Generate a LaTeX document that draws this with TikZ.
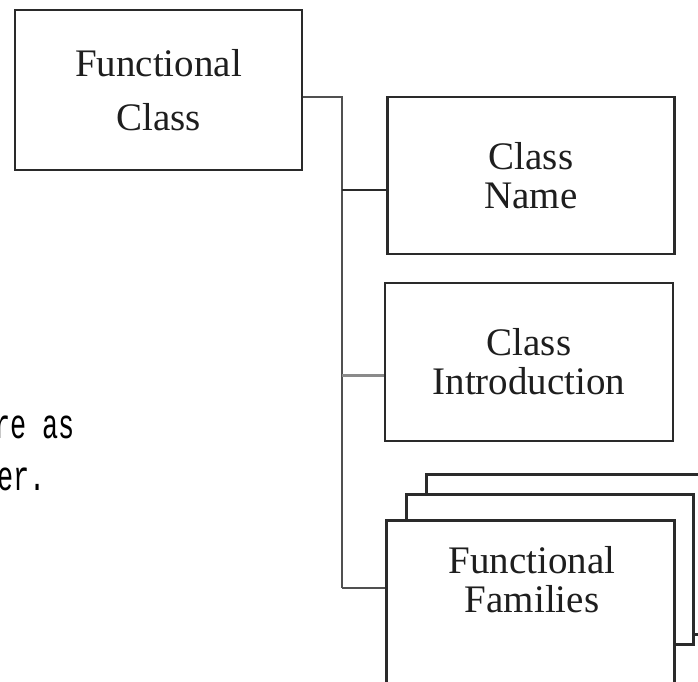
\documentclass[tikz,border=0pt]{standalone}
\usepackage{fontspec}
\usepackage{graphicx}
\setmainfont{Liberation Serif}
\newfontfamily\pixfont{Liberation Mono}
\definecolor{edge}{HTML}{2A2A2A}
\definecolor{trunk}{HTML}{505050}
\definecolor{lightbranch}{HTML}{8A8A8A}
\definecolor{txt}{HTML}{1E1E1E}
\begin{document}
\begin{tikzpicture}[x=1pt,y=-1pt,
  box/.style={draw=edge, line width=2.6pt, fill=white, rectangle, inner sep=0pt, text=txt,
     align=center, font={\fontsize{39}{39}\selectfont}},
  boxtext/.style={inner sep=0pt, text=txt, align=center, font={\fontsize{39}{39}\selectfont}},
  conn/.style={draw=trunk, line width=2.6pt},
  doctext/.style={inner sep=0pt, text=black, font={\pixfont\fontsize{42}{42}\selectfont}}]
\useasboundingbox (0,0) rectangle (698,681);
\clip (0,0) rectangle (698,681);

% main box
\node[box, minimum width=287pt, minimum height=160pt, font={\fontsize{39}{54}\selectfont}] (fc) at (158.5,90) {Functional\\Class};

% child boxes
\node[box, minimum width=287pt, minimum height=157pt] (cn) at (531,175.5) {Class\\Name};
\node[box, minimum width=288pt, minimum height=158pt] (ci) at (529,362) {Class\\Introduction};

% stacked family boxes
\node[box, minimum width=287pt, minimum height=160pt, anchor=north west] (ffback) at (425,473) {};
\node[box, minimum width=287pt, minimum height=150pt, anchor=north west] (ffmid) at (405,493) {};
\node[box, minimum width=288pt, minimum height=185pt, anchor=north west] (ff) at (385,519) {};
\node[boxtext] (fft) at (532,580) {Functional\\Families};

% connectors
\coordinate (j0) at (342,97);
\coordinate (j1) at (342,190);
\coordinate (j2) at (342,375);
\coordinate (j3) at (342,588);
\draw[conn] (fc.east |- j0) -- (j0) -- (j3);
\draw[conn, draw=edge] (j1) -- (cn.west |- j1);
\draw[conn, draw=lightbranch, line width=3pt] (j2) -- (ci.west |- j2);
\draw[conn] (j3) -- (ff.west |- j3);

% clipped document text
\node[doctext, anchor=base east] (t1) at (75,438) {\scalebox{0.64}[1]{re as}};
\node[doctext, anchor=base east] (t2) at (46,490) {\scalebox{0.64}[1]{er.}};
\end{tikzpicture}
\end{document}
